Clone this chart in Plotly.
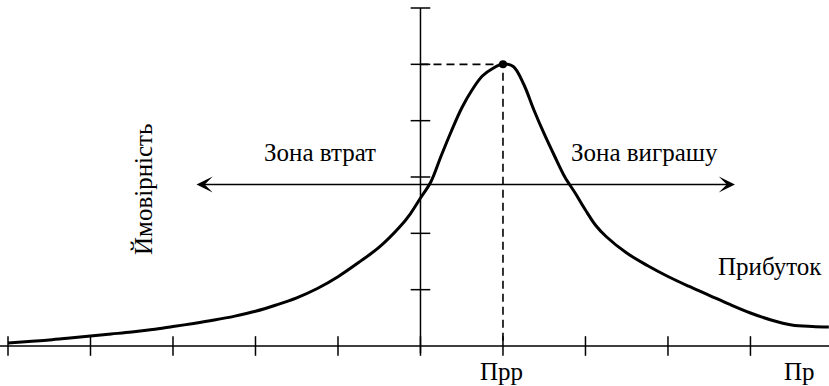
import plotly.graph_objects as go

# Profit axis: tick positions (units), probability axis ticks
x_ticks = [0, 1, 2, 3, 4, 5, 6, 7, 8, 9]
y_ticks = [1, 2, 3, 4, 5, 6]
y_axis_pos = 5          # vertical axis crosses the profit axis here
peak_x, peak_y = 6, 5   # most probable profit (Прр) and its probability

# Probability-of-profit curve
curve_x = [0.0, 0.25, 0.5, 0.75, 1.0, 1.25, 1.5, 1.75, 2.0, 2.25, 2.5, 2.75,
           3.0, 3.25, 3.5, 3.75, 4.0, 4.25, 4.5, 4.75, 4.875, 5.0, 5.125,
           5.25, 5.375, 5.5, 5.625, 5.75, 5.875, 6.0, 6.125, 6.25, 6.375,
           6.5, 6.625, 6.75, 6.875, 7.0, 7.125, 7.25, 7.5, 7.75, 8.0, 8.25,
           8.5, 8.75, 9.0, 9.25, 9.5, 9.75, 9.95]
curve_y = [0.053, 0.080, 0.107, 0.142, 0.178, 0.213, 0.249, 0.293, 0.346,
           0.400, 0.460, 0.530, 0.616, 0.728, 0.856, 1.021, 1.230, 1.482,
           1.754, 2.116, 2.343, 2.627, 2.911, 3.373, 3.817, 4.225, 4.545,
           4.793, 4.926, 5.006, 4.962, 4.651, 4.190, 3.764, 3.373, 3.000,
           2.716, 2.414, 2.139, 1.944, 1.651, 1.429, 1.234, 1.062, 0.900,
           0.737, 0.586, 0.462, 0.373, 0.346, 0.337]

# Zone arrow (from loss side to gain side) at this probability level
arrow_y = 2.867
arrow_left, arrow_right = 2.267, 8.812

x_range = [-0.097, 9.952]
y_range = [-0.71, 6.142]

FONT = dict(family="Liberation Serif, Times New Roman, serif", size=25, color="black")

fig = go.Figure()

# Profit axis line
fig.add_shape(type="line", x0=x_range[0], x1=x_range[1], y0=0, y1=0,
              line=dict(color="black", width=1.5))
# Probability axis line
fig.add_shape(type="line", x0=y_axis_pos, x1=y_axis_pos, y0=-0.124, y1=y_ticks[-1],
              line=dict(color="black", width=1.5))

# Tick marks crossing the axes
fig.add_trace(go.Scatter(x=x_ticks, y=[0] * len(x_ticks), mode="markers",
                         marker=dict(symbol="line-ns", size=14,
                                     line=dict(color="black", width=1.5)),
                         hoverinfo="skip", showlegend=False))
fig.add_trace(go.Scatter(x=[y_axis_pos] * len(y_ticks), y=y_ticks, mode="markers",
                         marker=dict(symbol="line-ew", size=14,
                                     line=dict(color="black", width=1.5)),
                         hoverinfo="skip", showlegend=False))

# Dashed guides to the peak
fig.add_trace(go.Scatter(x=[y_axis_pos, peak_x, peak_x], y=[peak_y, peak_y, 0],
                         mode="lines", line=dict(color="black", width=1.6, dash="8px,5px"),
                         hoverinfo="skip", showlegend=False))

# Distribution curve
fig.add_trace(go.Scatter(x=curve_x, y=curve_y, mode="lines",
                         line=dict(color="black", width=3, shape="spline", smoothing=1.0),
                         hoverinfo="skip", showlegend=False))

# Peak point
fig.add_trace(go.Scatter(x=[peak_x], y=[peak_y], mode="markers",
                         marker=dict(color="black", size=8),
                         hoverinfo="skip", showlegend=False))

# Double-headed zone arrow
fig.add_annotation(x=arrow_right, y=arrow_y, ax=arrow_left, ay=arrow_y,
                   xref="x", yref="y", axref="x", ayref="y", text="",
                   showarrow=True, arrowside="end+start",
                   arrowhead=3, startarrowhead=3, arrowsize=1.8, startarrowsize=1.8,
                   arrowwidth=1.5, arrowcolor="black")

labels = [
    ("Зона втрат", 3.78, 3.44, 0),
    ("Зона виграшу", 7.71, 3.44, 0),
    ("Прибуток", 9.236, 1.42, 0),
    ("Ймовірність", 1.636, 2.787, -90),
    ("Прр", 5.976, -0.46, 0),
    ("Пр", 9.6, -0.46, 0),
]
for text, lx, ly, ang in labels:
    fig.add_annotation(x=lx, y=ly, xref="x", yref="y", text=text, showarrow=False,
                       textangle=ang, font=FONT, xanchor="center", yanchor="middle")

fig.update_xaxes(range=x_range, visible=False, fixedrange=True)
fig.update_yaxes(range=y_range, visible=False, fixedrange=True)
fig.update_layout(width=829, height=386, margin=dict(l=0, r=0, t=0, b=0),
                  plot_bgcolor="white", paper_bgcolor="white", showlegend=False)

fig.write_html("out.html")
